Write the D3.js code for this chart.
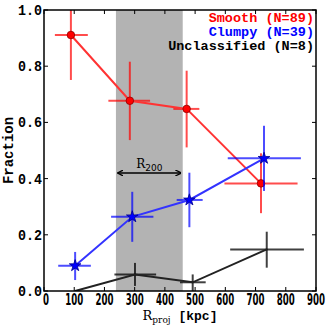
<!DOCTYPE html>
<html>
<head>
<meta charset="utf-8">
<script src="https://cdn.jsdelivr.net/npm/d3@7"></script>
<style>
  body { margin: 0; background: #fff; }
  svg text { font-family: "Liberation Mono", "DejaVu Sans Mono", monospace; font-weight: bold; }
</style>
</head>
<body>
<div id="chart"></div>
<script>
// Chart size
let svgWidth = 333;
let svgHeight = 325;

// Plot area box
let margin = { top: 10, right: 17, bottom: 34, left: 44 };
let width = svgWidth - margin.left - margin.right;
let height = svgHeight - margin.top - margin.bottom;

// Data: x in kpc, fraction, and error ranges
let smoothX    = [89, 284, 472, 718];
let smoothY    = [0.911, 0.677, 0.648, 0.383];
let smoothXLo  = [36, 213, 428, 597];
let smoothXHi  = [145, 351, 514, 839];
let smoothYLo  = [0.751, 0.537, 0.511, 0.277];
let smoothYHi  = [1.0, 0.816, 0.784, 0.49];

let clumpyX    = [103, 292, 481, 728];
let clumpyY    = [0.090, 0.264, 0.324, 0.472];
let clumpyXLo  = [47, 222, 439, 608];
let clumpyXHi  = [155, 362, 525, 850];
let clumpyYLo  = [0.039, 0.175, 0.227, 0.356];
let clumpyYHi  = [0.139, 0.353, 0.421, 0.588];

let unclX      = [103, 301, 492, 737];
let unclY      = [0.0, 0.059, 0.031, 0.148];
let unclXLo    = [103, 233, 450, 616];
let unclXHi    = [103, 371, 535, 860];
let unclYLo    = [0.0, 0.018, 0.0, 0.083];
let unclYHi    = [0.0, 0.10, 0.059, 0.211];

// R200 band
let r200Band = [238, 459];

let xTicks = [0, 100, 200, 300, 400, 500, 600, 700, 800, 900];
let yTicks = [0.0, 0.2, 0.4, 0.6, 0.8, 1.0];

let legendLabels = ["Smooth (N=89)", "Clumpy (N=39)", "Unclassified (N=8)"];

let svg = d3.select("#chart")
    .append("svg")
    .attr("width", svgWidth)
    .attr("height", svgHeight);

let chartGroup = svg.append("g")
    .attr("transform", `translate(${margin.left}, ${margin.top})`);

let xScale = d3.scaleLinear().domain([0, 900]).range([0, width]);
let yScale = d3.scaleLinear().domain([0, 1]).range([height, 0]);

// clip for marks
chartGroup.append("clipPath").attr("id", "clip")
    .append("rect").attr("width", width).attr("height", height);

// gray R200 band
chartGroup.append("rect")
    .attr("x", xScale(r200Band[0]))
    .attr("y", 0)
    .attr("width", xScale(r200Band[1]) - xScale(r200Band[0]))
    .attr("height", height)
    .attr("fill", "#b3b3b3");

// arrow marker
let defs = svg.append("defs");
defs.append("marker")
    .attr("id", "arr")
    .attr("viewBox", "0 0 10 10")
    .attr("refX", 9).attr("refY", 5)
    .attr("markerWidth", 4).attr("markerHeight", 4)
    .attr("orient", "auto-start-reverse")
    .append("path")
    .attr("d", "M0,0 L10,5 L0,10")
    .attr("fill", "none")
    .attr("stroke", "#000")
    .attr("stroke-width", 2.2);

let arrowY = yScale(0.42);
chartGroup.append("line")
    .attr("x1", xScale(r200Band[0]) + 2)
    .attr("x2", xScale(r200Band[1]) - 2)
    .attr("y1", arrowY).attr("y2", arrowY)
    .attr("stroke", "#000")
    .attr("stroke-width", 1.5)
    .attr("marker-start", "url(#arr)")
    .attr("marker-end", "url(#arr)");

let r200Label = chartGroup.append("text")
    .attr("x", (xScale(r200Band[0]) + xScale(r200Band[1])) / 2)
    .attr("y", arrowY - 5)
    .attr("text-anchor", "middle")
    .style("font-size", "12px");
r200Label.append("tspan").text("R").style("font-family", "DejaVu Serif").style("font-weight", "normal");
r200Label.append("tspan").text("200").attr("dy", 3).style("font-size", "9px")
    .style("font-family", "DejaVu Sans").style("font-weight", "normal");

// one series: error bars, line, markers
function drawSeries(xs, ys, xlo, xhi, ylo, yhi, lineColor, barColor, marker, markerColor) {
    let g = chartGroup.append("g").attr("clip-path", "url(#clip)");
    let idx = d3.range(xs.length);

    g.selectAll(".xerr").data(idx).enter().append("line")
        .attr("x1", i => xScale(xlo[i])).attr("x2", i => xScale(xhi[i]))
        .attr("y1", i => yScale(ys[i])).attr("y2", i => yScale(ys[i]))
        .attr("stroke", barColor).attr("stroke-width", 2);
    g.selectAll(".yerr").data(idx).enter().append("line")
        .attr("x1", i => xScale(xs[i])).attr("x2", i => xScale(xs[i]))
        .attr("y1", i => yScale(ylo[i])).attr("y2", i => yScale(yhi[i]))
        .attr("stroke", barColor).attr("stroke-width", 2);

    let line = d3.line().x(i => xScale(xs[i])).y(i => yScale(ys[i]));
    g.append("path").datum(idx)
        .attr("d", line)
        .attr("fill", "none")
        .attr("stroke", lineColor)
        .attr("stroke-width", 2);

    if (marker) {
        g.selectAll(".mk").data(idx).enter().append("path")
            .attr("d", d3.symbol().type(marker === "star" ? d3.symbolStar : d3.symbolCircle)
                .size(marker === "star" ? 42 : 45))
            .attr("transform", i => `translate(${xScale(xs[i])}, ${yScale(ys[i])})`)
            .attr("fill", markerColor)
            .attr("stroke", marker === "star" ? "#00008b" : "#8b0000")
            .attr("stroke-width", 0.8);
    }
}

drawSeries(unclX, unclY, unclXLo, unclXHi, unclYLo, unclYHi, "#222", "rgba(0,0,0,0.75)", null, null);
drawSeries(smoothX, smoothY, smoothXLo, smoothXHi, smoothYLo, smoothYHi, "#ff3333", "rgba(255,0,0,0.7)", "circle", "#ff0000");
drawSeries(clumpyX, clumpyY, clumpyXLo, clumpyXHi, clumpyYLo, clumpyYHi, "#3333ff", "rgba(0,0,255,0.7)", "star", "#0000ff");

// frame
chartGroup.append("rect")
    .attr("width", width).attr("height", height)
    .attr("fill", "none").attr("stroke", "#000").attr("stroke-width", 1.5);

// ticks, inside on all four sides
let tickLen = 4;
xTicks.forEach(function(t) {
    chartGroup.append("line").attr("x1", xScale(t)).attr("x2", xScale(t))
        .attr("y1", height).attr("y2", height - tickLen).attr("stroke", "#000");
    chartGroup.append("line").attr("x1", xScale(t)).attr("x2", xScale(t))
        .attr("y1", 0).attr("y2", tickLen).attr("stroke", "#000");
    chartGroup.append("text")
        .attr("x", xScale(t) + (t === 0 ? 2 : 0))
        .attr("y", height + 14)
        .attr("text-anchor", "middle")
        .style("font-family", "DejaVu Sans")
        .style("font-weight", "bold")
        .style("font-size", "15px")
        .attr("textLength", String(t).length * 6)
        .attr("lengthAdjust", "spacingAndGlyphs")
        .text(t);
});
yTicks.forEach(function(t) {
    chartGroup.append("line").attr("x1", 0).attr("x2", tickLen)
        .attr("y1", yScale(t)).attr("y2", yScale(t)).attr("stroke", "#000");
    chartGroup.append("line").attr("x1", width).attr("x2", width - tickLen)
        .attr("y1", yScale(t)).attr("y2", yScale(t)).attr("stroke", "#000");
    chartGroup.append("text")
        .attr("x", -2)
        .attr("y", yScale(t) + 5)
        .attr("text-anchor", "end")
        .style("font-size", "14px")
        .attr("textLength", 24)
        .attr("lengthAdjust", "spacingAndGlyphs")
        .text(t.toFixed(1));
});

// legend text, right aligned
let legendColors = ["#ff0000", "#0000ff", "#000000"];
legendLabels.forEach(function(lbl, i) {
    chartGroup.append("text")
        .attr("x", width - 2)
        .attr("y", 12 + i * 14)
        .attr("text-anchor", "end")
        .attr("fill", legendColors[i])
        .style("font-size", "13.5px")
        .text(lbl);
});

// axis labels
chartGroup.append("text")
    .attr("transform", "rotate(-90)")
    .attr("x", -height / 2)
    .attr("y", -31)
    .attr("text-anchor", "middle")
    .style("font-size", "14px")
    .text("Fraction");

let xLabel = chartGroup.append("text")
    .attr("x", width / 2)
    .attr("y", height + 29)
    .attr("text-anchor", "middle")
    .style("font-size", "13px");
xLabel.append("tspan").text("R").style("font-family", "DejaVu Serif").style("font-weight", "normal");
xLabel.append("tspan").text("proj").attr("dy", 3).style("font-size", "9px")
    .style("font-family", "DejaVu Serif").style("font-weight", "normal");
xLabel.append("tspan").text(" [kpc]").attr("dy", -3);
</script>
</body>
</html>
